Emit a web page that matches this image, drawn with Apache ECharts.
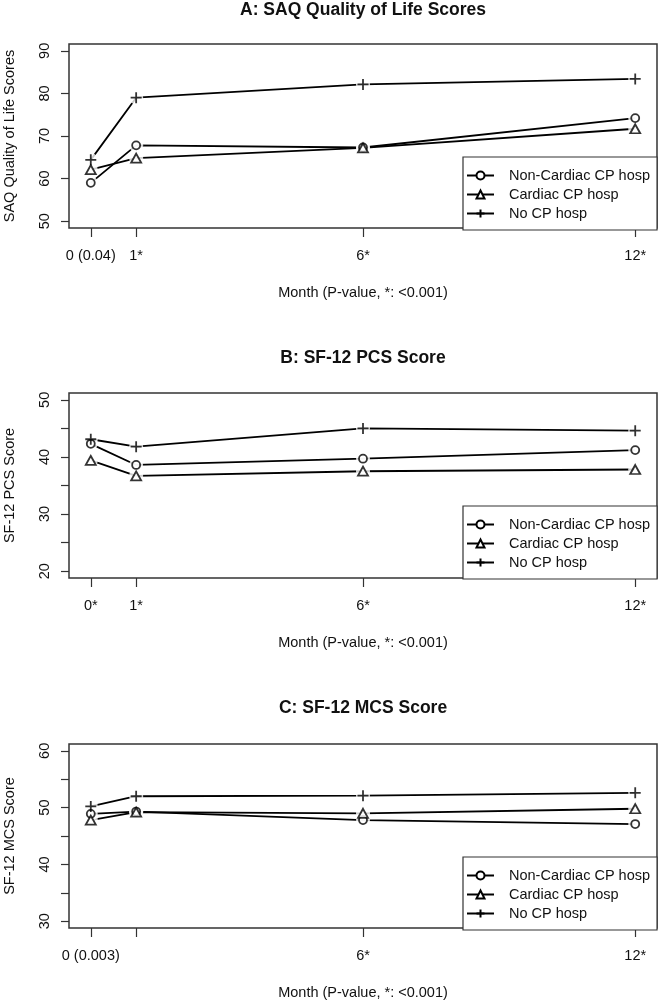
<!DOCTYPE html>
<html>
<head>
<meta charset="utf-8">
<script src="https://cdn.jsdelivr.net/npm/echarts@6/dist/echarts.min.js"></script>
<style>
html,body{margin:0;padding:0;background:#fff;}
#chart{width:659px;height:1000px;}
</style>
</head>
<body>
<div id="chart"></div>
<script>
// ---- data ----
const months = [0, 1, 6, 12];
const seriesNames = ['Non-Cardiac CP hosp', 'Cardiac CP hosp', 'No CP hosp'];

const nonCardiacA = [59.0, 67.8, 67.3, 74.2];
const cardiacA    = [62.1, 64.8, 67.2, 71.7];
const noCPA       = [64.4, 79.0, 82.1, 83.4];

const nonCardiacB = [42.3, 38.6, 39.7, 41.2];
const cardiacB    = [39.4, 36.7, 37.5, 37.8];
const noCPB       = [43.1, 41.8, 45.0, 44.6];

const nonCardiacC = [48.9, 49.3, 47.8, 47.1];
const cardiacC    = [47.8, 49.2, 49.0, 49.8];
const noCPC       = [50.2, 52.0, 52.1, 52.6];

const xLabelsA = ['0 (0.04)', '1*', '6*', '12*'];
const xLabelsB = ['0*', '1*', '6*', '12*'];
const xLabelsC = ['0 (0.003)', '', '6*', '12*'];

const yTicksA = [50, 60, 70, 80, 90];
const yLabelsA = [50, 60, 70, 80, 90];
const yTicksB = [20, 25, 30, 35, 40, 45, 50];
const yLabelsB = [20, 30, 40, 50];
const yTicksC = [30, 35, 40, 45, 50, 55, 60];
const yLabelsC = [30, 40, 50, 60];

const titles = ['A: SAQ Quality of Life Scores', 'B: SF-12 PCS Score', 'C: SF-12 MCS Score'];
const yNames = ['SAQ Quality of Life Scores', 'SF-12 PCS Score', 'SF-12 MCS Score'];
const xName = 'Month (P-value, *: <0.001)';

// ---- layout / style ----
const FONT = '"Liberation Sans", Arial, Helvetica, sans-serif';
const panels = [
  {top: 44, height: 184, ymin: 48.4, ymax: 91.6, yTicks: yTicksA, yLabels: yLabelsA, xLabels: xLabelsA,
   data: [nonCardiacA, cardiacA, noCPA], titleTop: 1, legendTop: 157},
  {top: 393, height: 185, ymin: 18.8, ymax: 51.2, yTicks: yTicksB, yLabels: yLabelsB, xLabels: xLabelsB,
   data: [nonCardiacB, cardiacB, noCPB], titleTop: 349, legendTop: 506},
  {top: 744, height: 184, ymin: 28.8, ymax: 61.2, yTicks: yTicksC, yLabels: yLabelsC, xLabels: xLabelsC,
   data: [nonCardiacC, cardiacC, noCPC], titleTop: 699, legendTop: 857}
];
const PLUS = 'path://M5,0L5,10M0,5L10,5';
const markers = [
  {symbol: 'circle', size: 8},
  {symbol: 'triangle', size: [10, 9]},
  {symbol: PLUS, size: 11}
];
const legendSymbols = ['emptyCircle', 'emptyTriangle', PLUS];
const INK = '#000';
const BOX = '#333';

const option = {
  animation: false,
  backgroundColor: '#fff',
  textStyle: {fontFamily: FONT},
  title: [], grid: [], xAxis: [], yAxis: [], legend: [], series: []
};

panels.forEach((p, i) => {
  option.title.push({
    text: titles[i], left: 363, top: p.titleTop, textAlign: 'center', padding: 0,
    textStyle: {fontFamily: FONT, fontSize: 17.5, fontWeight: 'bold', color: '#111'}
  });
  option.grid.push({
    left: 69, top: p.top, width: 588, height: p.height,
    containLabel: false, outerBoundsMode: 'none',
    show: true, borderColor: BOX, borderWidth: 1.5, backgroundColor: 'transparent'
  });
  const xl = p.xLabels;
  option.xAxis.push({
    type: 'value', gridIndex: i, min: -0.48, max: 12.48, position: 'bottom',
    name: xName, nameLocation: 'middle', nameGap: 57,
    nameTextStyle: {fontFamily: FONT, fontSize: 14.5, color: '#111'},
    axisLine: {show: false, onZero: false},
    splitLine: {show: false},
    axisTick: {show: true, customValues: months, length: 9, inside: false, lineStyle: {color: BOX, width: 1.2}},
    axisLabel: {show: true, customValues: months, margin: 20, fontFamily: FONT, fontSize: 14.5, color: '#111',
      formatter: v => { const k = months.indexOf(v); return k >= 0 ? xl[k] : ''; }}
  });
  option.yAxis.push({
    type: 'value', gridIndex: i, min: p.ymin, max: p.ymax, position: 'left',
    name: yNames[i], nameLocation: 'middle', nameGap: 52, nameRotate: 90,
    nameTextStyle: {fontFamily: FONT, fontSize: 14.5, color: '#111'},
    axisLine: {show: false, onZero: false},
    splitLine: {show: false},
    axisTick: {show: true, customValues: p.yTicks, length: 8, inside: false, lineStyle: {color: BOX, width: 1.2}},
    axisLabel: {show: true, customValues: p.yLabels, rotate: 90, margin: 17, fontFamily: FONT, fontSize: 14.5, color: '#111'}
  });
  option.legend.push({
    data: seriesNames, orient: 'vertical', left: 463, top: p.legendTop,
    selectedMode: false, itemWidth: 27, itemHeight: 10, itemGap: 4,
    padding: [11, 7, 9, 3],
    backgroundColor: '#fff', borderColor: BOX, borderWidth: 1.2, borderRadius: 0,
    textStyle: {fontFamily: FONT, fontSize: 14.5, color: '#111', padding: [0, 0, 0, 10]},
    z: 10
  });
  p.data.forEach((vals, j) => {
    const pts = months.map((m, k) => [m, vals[k]]);
    // connecting line (also provides the legend glyph)
    option.series.push({
      type: 'line', name: seriesNames[j], xAxisIndex: i, yAxisIndex: i,
      data: pts, showSymbol: false, symbol: legendSymbols[j], symbolSize: 8,
      lineStyle: {color: INK, width: 1.8},
      itemStyle: {color: INK, borderColor: INK, borderWidth: 1.3},
      z: 2, silent: true
    });
    // white gap around each point (R type = "b")
    option.series.push({
      type: 'scatter', name: 'gap' + i + j, xAxisIndex: i, yAxisIndex: i,
      data: pts, symbol: 'circle', symbolSize: 14,
      itemStyle: {color: '#fff', borderWidth: 0},
      z: 3, silent: true
    });
    // point markers
    option.series.push({
      type: 'scatter', name: 'pt' + i + j, xAxisIndex: i, yAxisIndex: i,
      data: pts, symbol: markers[j].symbol, symbolSize: markers[j].size,
      itemStyle: {color: '#fff', borderColor: INK, borderWidth: 1.8},
      z: 4, silent: true
    });
  });
});

const chart = echarts.init(document.getElementById('chart'), null, {renderer: 'canvas'});
chart.setOption(option);
</script>
</body>
</html>
